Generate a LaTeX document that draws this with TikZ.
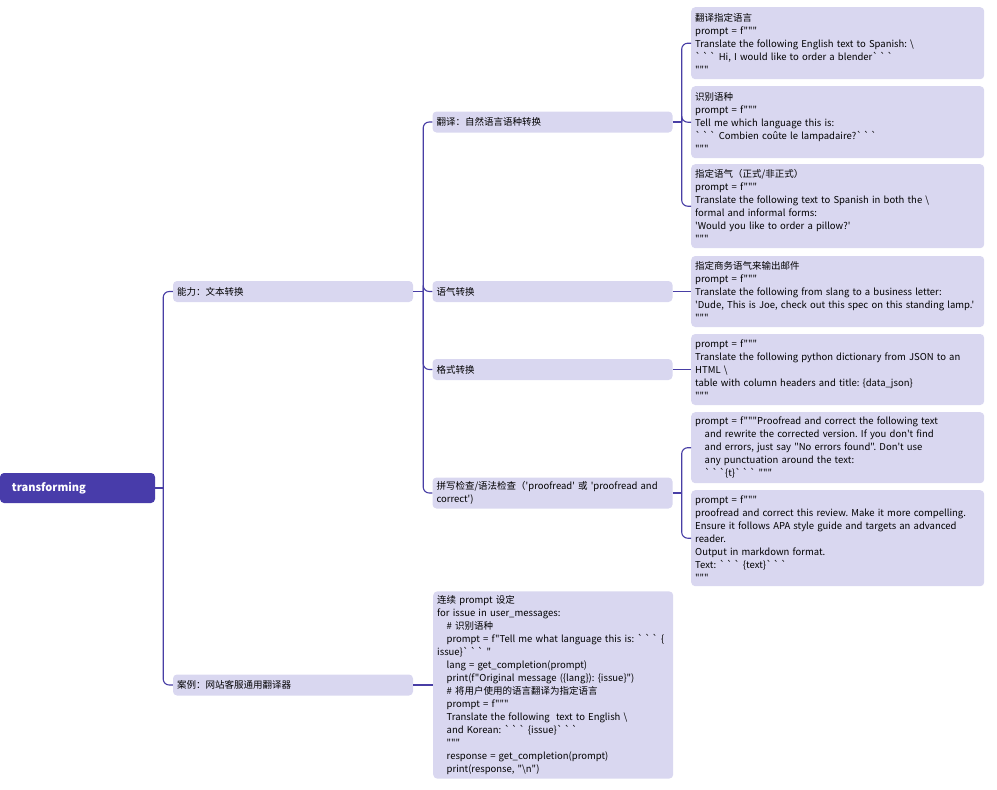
\documentclass[tikz,border=0pt]{standalone}
\usepackage{fontspec}
\setmainfont{Noto Sans CJK SC}[Ligatures=TeXOff]
\usetikzlibrary{positioning}
\definecolor{rootfill}{RGB}{72,60,170}
\definecolor{boxfill}{RGB}{217,215,240}
\definecolor{linkcol}{RGB}{72,62,165}
\newcommand{\bq}{\char96\,\char96\,\char96}
\newcommand{\ind}{\hspace*{1em}}
\frenchspacing

\begin{document}
\begin{tikzpicture}[x=1pt,y=-1pt,
  topic/.style={fill=rootfill,text=white,rounded corners=4pt,font=\bfseries\fontsize{11}{13}\selectfont,
    minimum width=155,minimum height=30,inner xsep=12pt,text width=131pt,align=left},
  branch/.style={fill=boxfill,rounded corners=4pt,font=\fontsize{9.5}{13}\selectfont,
    inner xsep=4pt,inner ysep=4pt,text width=232pt,align=left,minimum height=21pt},
  leaf/.style={fill=boxfill,rounded corners=4pt,font=\fontsize{9.5}{13}\selectfont,
    inner xsep=4pt,inner ysep=4pt,text width=285pt,align=left,anchor=north west},
  link/.style={draw=linkcol,line width=1.1pt,rounded corners=6pt}]

\useasboundingbox (0,0) rectangle (997,790);

% root
\node[topic] (root) at (77.5,488) {transforming};

% level 1
\node[branch] (ability) at (293,291.5) {能力：文本转换};
\node[branch] (case) at (293,685) {案例：网站客服通用翻译器};

% level 2
\node[branch] (trans) at (552.5,122) {翻译：自然语言语种转换};
\node[branch] (tone) at (552.5,291.5) {语气转换};
\node[branch] (format) at (552.5,369.5) {格式转换};
\node[branch] (spell) at (552.5,493) {拼写检查/语法检查（'proofread' 或 'proofread and\\correct')};
\node[branch,anchor=west,minimum height=186pt] (loop) at (433,685) {连续 prompt 设定\\
for issue in user\_messages:\\
\ind\# 识别语种\\
\ind prompt = f"Tell me what language this is: \bq\ \{\\
issue\}\bq\ "\\
\ind lang = get\_completion(prompt)\\
\ind print(f"Original message (\{lang\}): \{issue\}")\\
\ind\# 将用户使用的语言翻译为指定语言\\
\ind prompt = f"""\\
\ind Translate the following\ \ text to English \textbackslash\\
\ind and Korean: \bq\ \{issue\}\bq\\
\ind """\\
\ind response = get\_completion(prompt)\\
\ind print(response, "\textbackslash n")};

% level 3
\node[leaf,minimum height=72pt] (lang) at (691,7) {翻译指定语言\\
prompt = f"""\\
Translate the following English text to Spanish: \textbackslash\\
\bq\ Hi, I would like to order a blender\bq\\
"""};
\node[leaf,minimum height=72pt] (detect) at (691,86) {识别语种\\
prompt = f"""\\
Tell me which language this is:\\
\bq\ Combien coûte le lampadaire?\bq\\
"""};
\node[leaf,minimum height=84pt] (formal) at (691,164) {指定语气（正式/非正式）\\
prompt = f"""\\
Translate the following text to Spanish in both the \textbackslash\\
formal and informal forms:\\
'Would you like to order a pillow?'\\
"""};
\node[leaf,minimum height=71pt,anchor=west] (letter) at (691,291.5) {指定商务语气来输出邮件\\
prompt = f"""\\
Translate the following from slang to a business letter:\\
'Dude, This is Joe, check out this spec on this standing lamp.'\\
"""};
\node[leaf,minimum height=71pt,anchor=west] (json) at (691,369.5) {prompt = f"""\\
Translate the following python dictionary from JSON to an\\
HTML \textbackslash\\
table with column headers and title: \{data\_json\}\\
"""};
\node[leaf,minimum height=71pt] (proof) at (691,412) {prompt = f"""Proofread and correct the following text\\
\ind and rewrite the corrected version. If you don't find\\
\ind and errors, just say "No errors found". Don't use\\
\ind any punctuation around the text:\\
\ind\bq\{t\}\bq\ """};
\node[leaf,minimum height=96pt] (review) at (691,490) {prompt = f"""\\
proofread and correct this review. Make it more compelling.\\
Ensure it follows APA style guide and targets an advanced\\
reader.\\
Output in markdown format.\\
Text: \bq\ \{text\}\bq\\
"""};

% connectors
\draw[link] (root.east) -- ++(8,0);
\foreach \kid in {ability,case}
  \draw[link] (root.east) ++(8,0) |- (\kid.west);
\draw[link] (ability.east) -- ++(10,0);
\foreach \kid in {trans,tone,format,spell}
  \draw[link] (ability.east) ++(10,0) |- (\kid.west);
\draw[link] (case.east) -- (loop.west);
\draw[link] (trans.east) -- ++(9,0);
\foreach \kid in {lang,detect,formal}
  \draw[link] (trans.east) ++(9,0) |- (\kid.west);
\draw[link] (tone.east) -- (letter.west);
\draw[link] (format.east) -- (json.west);
\draw[link] (spell.east) -- ++(9,0);
\foreach \kid in {proof,review}
  \draw[link] (spell.east) ++(9,0) |- (\kid.west);

\end{tikzpicture}
\end{document}
